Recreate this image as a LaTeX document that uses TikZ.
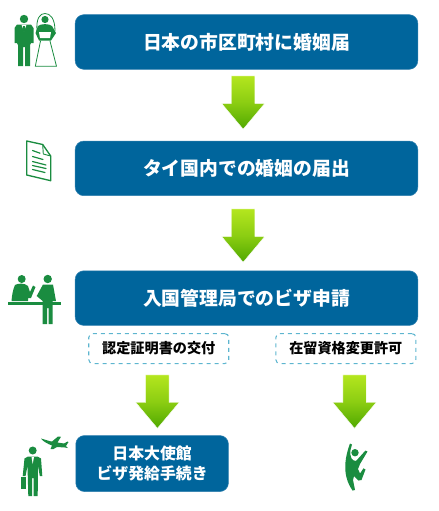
\documentclass[tikz,border=0pt]{standalone}
\usepackage{fontspec}
\setmainfont{Noto Sans CJK JP}
\usetikzlibrary{positioning,shapes.arrows}
\definecolor{stepblue}{HTML}{00659C}
\definecolor{stepedge}{HTML}{2F7FAE}
\definecolor{dashblue}{HTML}{5DB5CF}
\definecolor{icongreen}{HTML}{1A8C40}
\definecolor{arrowtop}{HTML}{B4E61E}
\definecolor{arrowbot}{HTML}{4FA800}
\tikzset{
  stepbox/.style  ={draw=stepedge,rounded corners=6.5pt,align=center,text=white,
                    font=\fontsize{14.1}{20}\selectfont\bfseries,
                    minimum width=257pt,minimum height=41pt,fill=stepblue,inner sep=0pt},
  smallbox/.style ={stepbox,minimum width=114.5pt,minimum height=42pt,
                    font=\fontsize{11.9}{15.5}\selectfont\bfseries},
  notebox/.style  ={draw=dashblue,dashed,thick,rounded corners=3pt,align=center,
                    font=\fontsize{10.6}{13}\selectfont\bfseries,
                    minimum width=105pt,minimum height=22.5pt,inner sep=0pt},
  downarrow/.style={single arrow,shape border rotate=270,minimum height=40pt,minimum width=32.5pt,
                    inner sep=8.2pt,single arrow head indent=0pt,single arrow tip angle=80,
                    draw=white,line width=.3pt,top color=arrowtop,bottom color=arrowbot,middle color=arrowtop!60!arrowbot},
  icon/.style     ={fill=icongreen,draw=none},
  iconline/.style ={draw=icongreen,line cap=round,line join=round,fill=none},
}
\begin{document}
\begin{tikzpicture}[x=.75pt,y=-.75pt]
\useasboundingbox (0,0) rectangle (439,511);
\node[stepbox] (koninA) at (246.5,42) {日本の市区町村に婚姻届};
\node[downarrow,below=4.5pt of koninA,xshift=-2.5pt] (arrA) {};
\node[stepbox,below=8.5pt of arrA,xshift=2.5pt] (koninB) {タイ国内での婚姻の届出};
\node[downarrow,below=9.5pt of koninB,xshift=-2.5pt] (arrB) {};
\node[stepbox,below=6pt of arrB,xshift=2.5pt] (visa) {入国管理局でのビザ申請};
% outcomes
\node[notebox,below right=5.5pt and 10pt of visa.south west] (nintei) {認定証明書の交付};
\node[notebox,right=34.5pt of nintei] (henko) {在留資格変更許可};
\node[downarrow,below=8pt of nintei,xshift=-1pt] (arrC) {};
\node[downarrow,below=8pt of henko,xshift=6.5pt] (arrD) {};
\node[smallbox,below=5pt of arrC,xshift=-4pt] (embassy) {日本大使館\\ビザ発給手続き};
% groom
\fill[icon] (24,19) circle (4.2);
\fill[icon] (17,24.5) -- (31,24.5) -- (33.5,28) -- (33.5,43) -- (31,43) -- (30,45) -- (30,66) -- (25,66) -- (25,47)
  -- (23,47) -- (23,66) -- (18,66) -- (18,45) -- (17,43) -- (14.5,43) -- (14.5,28) -- cycle;
\fill[white] (21.5,24.8) -- (26.5,24.8) -- (24,31) -- cycle;
\fill[icon] (23.4,26) rectangle (24.6,31);
% bride
\draw[iconline,line width=.6pt] (37,31) .. controls (36,18) and (40,13.5) .. (45,13.5)
  .. controls (50,13.5) and (55,18) .. (55,31);
\fill[icon] (45,19.5) circle (3.6);
\fill[icon] (38,26) .. controls (41,23.5) and (49,23.5) .. (52,26) -- (56,33) -- (51,40.5) -- (39,40.5) -- (35.5,33) -- cycle;
\fill[white] (39,32) -- (51,32) -- (50,38) -- (40,38) -- cycle;
\draw[iconline,line width=.6pt] (40.5,41) -- (35.3,66.3) -- (56.5,66.3) -- (50,41);
% document
\draw[iconline,line width=1pt] (26.7,141) -- (42.7,144.5) -- (50.7,156) -- (50.7,180.7) -- (26.7,175) -- cycle;
\draw[iconline,line width=.7pt] (42.7,144.5) -- (43.3,154) -- (50.7,156);
\foreach \ya/\yb/\xb in {150.5/153.2/40,156.5/159.5/43,161.5/165/46,165.5/168.5/46,169.5/172.5/45}
  \draw[iconline,line width=.9pt] (32.5,\ya) -- (\xb,\yb);
% counter
\fill[icon] (21.7,279) circle (4);
\fill[icon] (15,285) .. controls (18,283) and (25,283) .. (28,286) -- (30,292) -- (33,285.5) -- (35.5,287)
  -- (31,298) -- (28,298) -- (28,301) -- (11.5,301) .. controls (12,295) and (13,289) .. (15,285) -- cycle;
\fill[icon] (8,302) rectangle (61,305);
\fill[icon] (47.7,279) circle (4.2);
\fill[icon] (43,284.5) -- (53,284.5) -- (56,301) -- (52.7,301) -- (52.7,324) -- (48.5,324) -- (48.5,308)
  -- (47,308) -- (47,324) -- (42.7,324) -- (42.7,301) -- (36.7,296) -- cycle;
% traveller
\fill[icon] (32.7,450.5) circle (4);
\fill[icon] (28,456.5) -- (37.5,456.5) -- (41,458.5) -- (42.3,476) -- (39.8,476) -- (38,466) -- (37.7,496) -- (33.5,496)
  -- (33.5,478) -- (32,478) -- (32,496) -- (28.3,496) -- (27.5,466) -- (25.5,476) -- (22.7,476) -- (24.5,458.5) -- cycle;
\fill[white] (31.5,457) -- (34,457) -- (32.7,464) -- cycle;
\fill[icon] (21.3,477) rectangle (26,489.3);
% airplane
\fill[icon] (41,438.5) .. controls (45,439.5) and (50,441.5) .. (52,441.5) -- (58,436.5) -- (61,436.8) -- (57.5,442.5)
  -- (64,443.5) -- (67.5,441.5) -- (68.5,442) -- (66,446) -- (68,448) -- (65,447.5) -- (57,447) -- (53.5,449) -- (50.5,449) -- (52,445.5)
  .. controls (48,444) and (43,441.5) .. (41,438.5) -- cycle;
% jumping man
\fill[icon] (355,452.7) circle (3.7);
\fill[icon] (350,443.5) -- (352,444.5) -- (350.5,450) .. controls (349.5,457) and (352,461) .. (356,461)
  -- (365.5,450.5) -- (367.5,451.5) -- (360,464) -- (358,469) -- (360,473.5) -- (363.5,468.3) -- (365.5,469.5) -- (361.5,480) -- (358.5,480.5)
  -- (354,476) -- (353,480) -- (355,490) -- (352.5,490.5)
  .. controls (345,480) and (342,465) .. (350,443.5) -- cycle;
\end{tikzpicture}
\end{document}
